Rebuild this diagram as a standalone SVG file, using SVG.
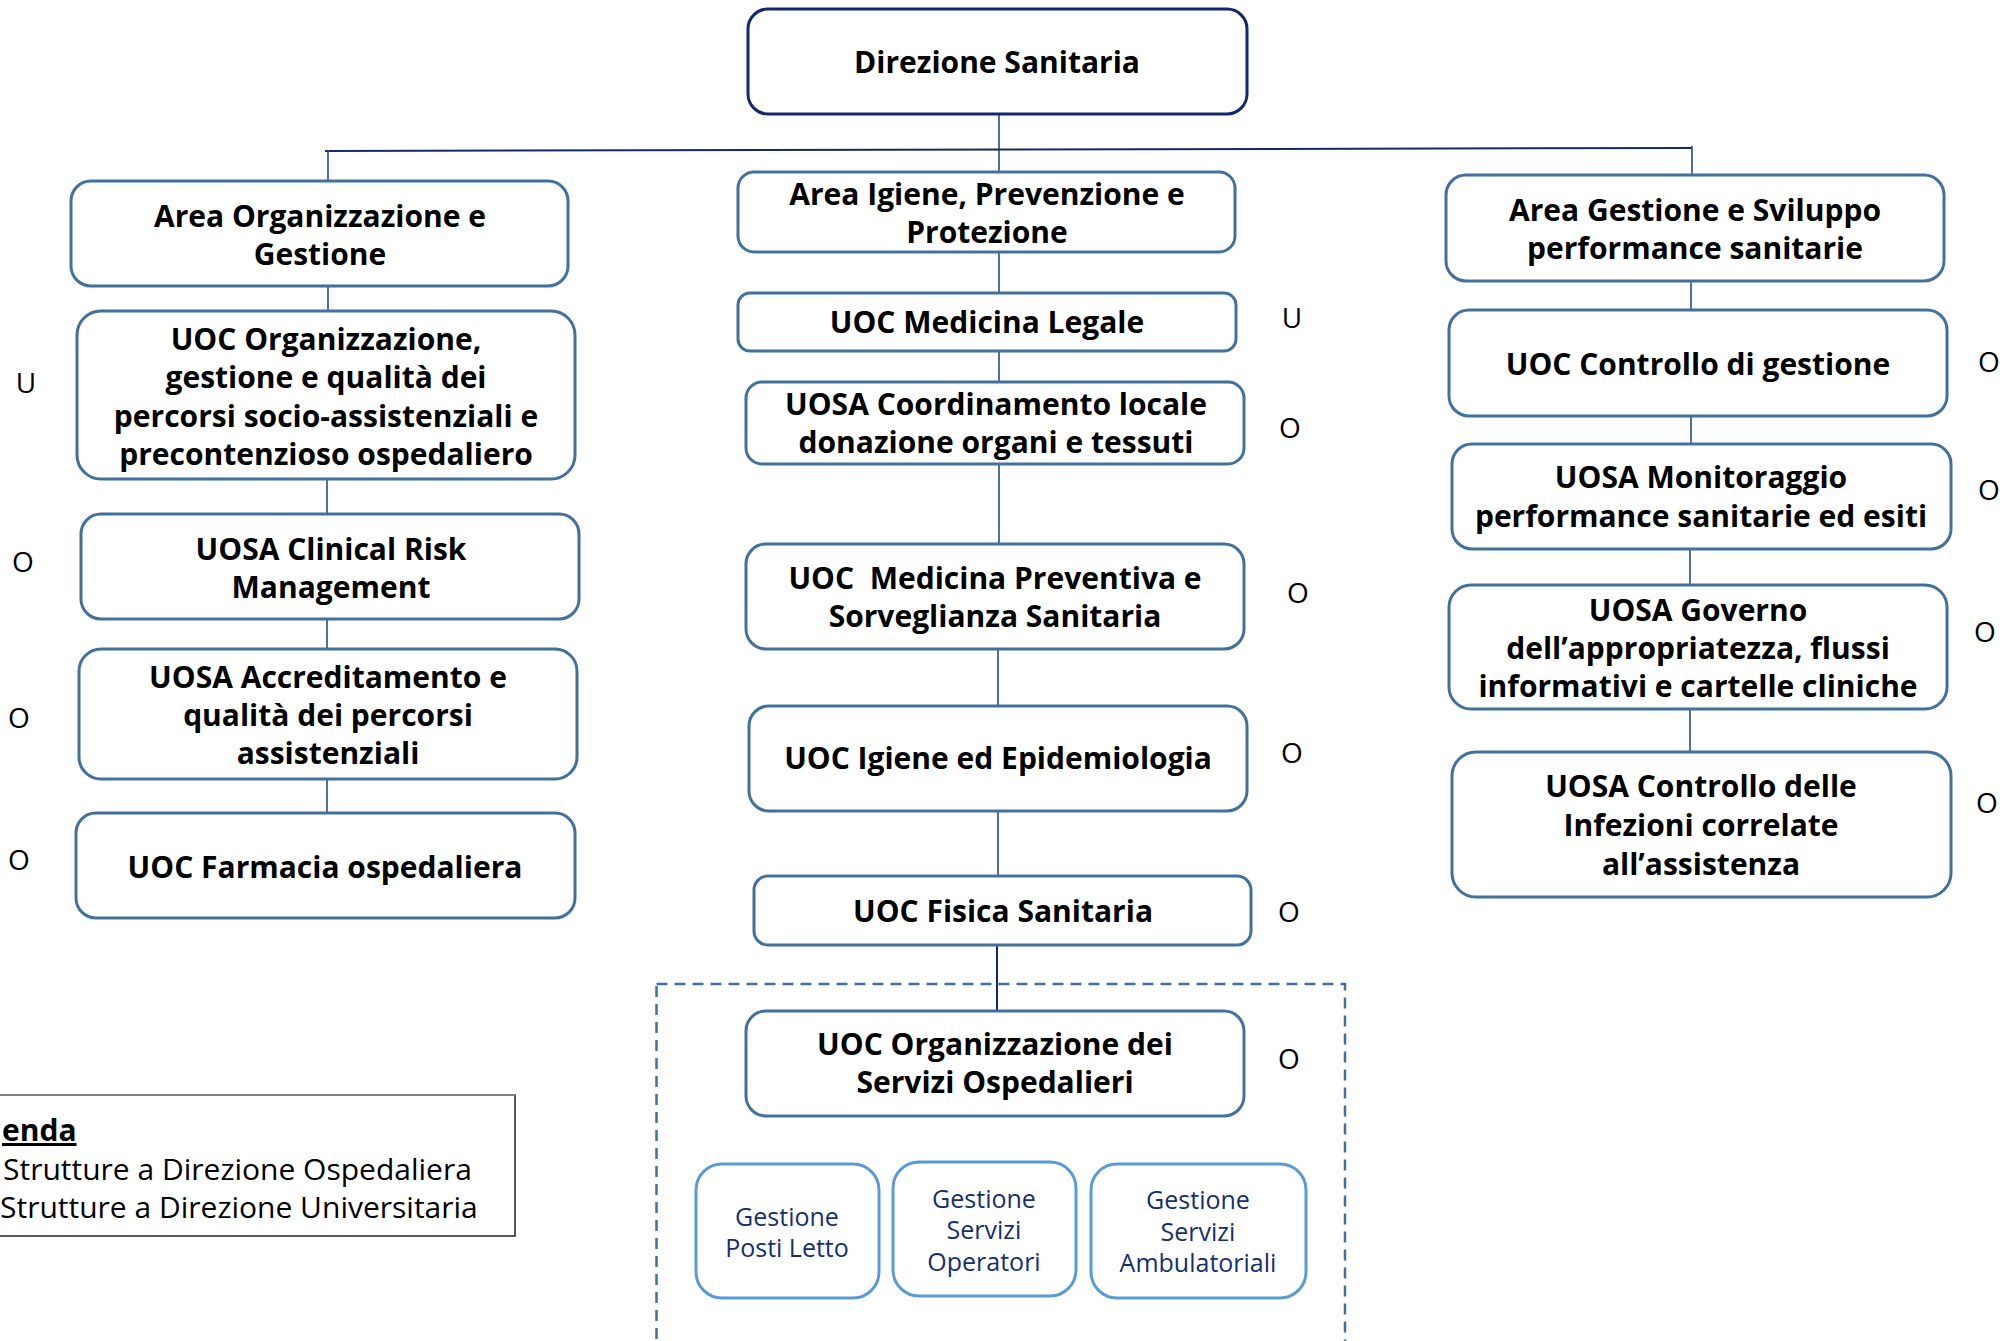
<svg xmlns="http://www.w3.org/2000/svg" width="2013" height="1341" viewBox="0 0 2013 1341">
<style>
  .box { fill: #ffffff; stroke: #41719c; stroke-width: 3; }
  .top { fill: #ffffff; stroke: #13296b; stroke-width: 3; }
  .sub { fill: #ffffff; stroke: #5b9bd5; stroke-width: 3; }
  .t { font-family: "Open Sans", "Noto Sans", sans-serif; font-weight: bold; font-size: 30px; fill: #000000; text-anchor: middle; }
  .st { font-family: "Open Sans", "Noto Sans", sans-serif; font-size: 25px; fill: #14306e; text-anchor: middle; }
  .mk { font-family: "Open Sans", "Noto Sans", sans-serif; font-size: 28px; fill: #000000; text-anchor: middle; }
  .lg { font-family: "Open Sans", "Noto Sans", sans-serif; font-size: 30px; fill: #000000; }
  .c { stroke: #3f5f96; stroke-width: 1.8; fill: none; }
  .cn { stroke: #13296b; stroke-width: 2; fill: none; }
</style>

<g id="connectors">
  <line class="c" x1="999" y1="114" x2="999" y2="172"/>
  <line class="cn" x1="325" y1="151" x2="1692" y2="148"/>
  <line class="c" x1="328" y1="151" x2="328" y2="181"/>
  <line class="c" x1="1692" y1="146" x2="1692" y2="175"/>
  <line class="c" x1="328" y1="286" x2="328" y2="311"/>
  <line class="c" x1="327" y1="479" x2="327" y2="514"/>
  <line class="c" x1="327" y1="619" x2="327" y2="649"/>
  <line class="c" x1="327" y1="779" x2="327" y2="813"/>
  <line class="c" x1="999" y1="252" x2="999" y2="293"/>
  <line class="c" x1="999" y1="351" x2="999" y2="382"/>
  <line class="c" x1="999" y1="464" x2="999" y2="544"/>
  <line class="c" x1="998" y1="649" x2="998" y2="706"/>
  <line class="c" x1="998" y1="811" x2="998" y2="876"/>
  <line class="cn" x1="997" y1="945" x2="997" y2="1011"/>
  <line class="c" x1="1691" y1="281" x2="1691" y2="310"/>
  <line class="c" x1="1691" y1="416" x2="1691" y2="444"/>
  <line class="c" x1="1690" y1="549" x2="1690" y2="585"/>
  <line class="c" x1="1690" y1="709" x2="1690" y2="752"/>
</g>

<g id="group-servizi">
  <rect x="656.5" y="984" width="688.5" height="380" fill="none" stroke="#41719c" stroke-width="2.5" stroke-dasharray="11 7"/>
</g>

<g id="direzione">
  <rect class="top" x="748" y="9" width="499" height="105" rx="20"/>
  <text class="t" x="997" y="73">Direzione Sanitaria</text>
</g>

<g id="area-org">
  <rect class="box" x="71" y="181" width="497" height="105" rx="20"/>
  <text class="t" x="320" y="227">Area Organizzazione e</text>
  <text class="t" x="320" y="265">Gestione</text>
</g>
<g id="uoc-org">
  <rect class="box" x="77" y="311" width="498" height="168" rx="24"/>
  <text class="t" x="326" y="350">UOC Organizzazione,</text>
  <text class="t" x="326" y="388">gestione e qualità dei</text>
  <text class="t" x="326" y="427">percorsi socio-assistenziali e</text>
  <text class="t" x="326" y="465">precontenzioso ospedaliero</text>
</g>
<g id="uosa-clinical">
  <rect class="box" x="81" y="514" width="498" height="105" rx="20"/>
  <text class="t" x="331" y="560">UOSA Clinical Risk</text>
  <text class="t" x="331" y="598">Management</text>
</g>
<g id="uosa-accred">
  <rect class="box" x="79" y="649" width="498" height="130" rx="22"/>
  <text class="t" x="328" y="688">UOSA Accreditamento e</text>
  <text class="t" x="328" y="726">qualità dei percorsi</text>
  <text class="t" x="328" y="764">assistenziali</text>
</g>
<g id="uoc-farmacia">
  <rect class="box" x="76" y="813" width="499" height="105" rx="20"/>
  <text class="t" x="325" y="878">UOC Farmacia ospedaliera</text>
</g>

<g id="area-igiene">
  <rect class="box" x="738" y="172" width="497" height="80" rx="16"/>
  <text class="t" x="987" y="205">Area Igiene, Prevenzione e</text>
  <text class="t" x="987" y="243">Protezione</text>
</g>
<g id="uoc-med-legale">
  <rect class="box" x="738" y="293" width="498" height="58" rx="12"/>
  <text class="t" x="987" y="333">UOC Medicina Legale</text>
</g>
<g id="uosa-coord">
  <rect class="box" x="746" y="382" width="498" height="82" rx="16"/>
  <text class="t" x="996" y="415">UOSA Coordinamento locale</text>
  <text class="t" x="996" y="453">donazione organi e tessuti</text>
</g>
<g id="uoc-med-prev">
  <rect class="box" x="746" y="544" width="498" height="105" rx="20"/>
  <text class="t" x="995" y="589" xml:space="preserve">UOC  Medicina Preventiva e</text>
  <text class="t" x="995" y="627">Sorveglianza Sanitaria</text>
</g>
<g id="uoc-igiene">
  <rect class="box" x="749" y="706" width="498" height="105" rx="20"/>
  <text class="t" x="998" y="769">UOC Igiene ed Epidemiologia</text>
</g>
<g id="uoc-fisica">
  <rect class="box" x="754" y="876" width="497" height="69" rx="14"/>
  <text class="t" x="1003" y="922">UOC Fisica Sanitaria</text>
</g>
<g id="uoc-org-servizi">
  <rect class="box" x="746" y="1011" width="498" height="105" rx="20"/>
  <text class="t" x="995" y="1055">UOC Organizzazione dei</text>
  <text class="t" x="995" y="1093">Servizi Ospedalieri</text>
</g>
<g id="gest-posti">
  <rect class="sub" x="696" y="1164" width="183" height="134" rx="26"/>
  <text class="st" x="787" y="1226">Gestione</text>
  <text class="st" x="787" y="1257">Posti Letto</text>
</g>
<g id="gest-operatori">
  <rect class="sub" x="893" y="1162" width="183" height="134" rx="26"/>
  <text class="st" x="984" y="1208">Gestione</text>
  <text class="st" x="984" y="1239">Servizi</text>
  <text class="st" x="984" y="1271">Operatori</text>
</g>
<g id="gest-ambulatoriali">
  <rect class="sub" x="1091" y="1164" width="215" height="134" rx="26"/>
  <text class="st" x="1198" y="1209">Gestione</text>
  <text class="st" x="1198" y="1241">Servizi</text>
  <text class="st" x="1198" y="1272">Ambulatoriali</text>
</g>

<g id="area-gestione">
  <rect class="box" x="1446" y="175" width="498" height="106" rx="20"/>
  <text class="t" x="1695" y="221">Area Gestione e Sviluppo</text>
  <text class="t" x="1695" y="259">performance sanitarie</text>
</g>
<g id="uoc-controllo">
  <rect class="box" x="1449" y="310" width="498" height="106" rx="20"/>
  <text class="t" x="1698" y="375">UOC Controllo di gestione</text>
</g>
<g id="uosa-monitoraggio">
  <rect class="box" x="1452" y="444" width="499" height="105" rx="20"/>
  <text class="t" x="1701" y="488">UOSA Monitoraggio</text>
  <text class="t" x="1701" y="527">performance sanitarie ed esiti</text>
</g>
<g id="uosa-governo">
  <rect class="box" x="1449" y="585" width="498" height="124" rx="22"/>
  <text class="t" x="1698" y="621">UOSA Governo</text>
  <text class="t" x="1698" y="659">dell’appropriatezza, flussi</text>
  <text class="t" x="1698" y="697">informativi e cartelle cliniche</text>
</g>
<g id="uosa-infezioni">
  <rect class="box" x="1452" y="752" width="499" height="145" rx="24"/>
  <text class="t" x="1701" y="797">UOSA Controllo delle</text>
  <text class="t" x="1701" y="836">Infezioni correlate</text>
  <text class="t" x="1701" y="875">all’assistenza</text>
</g>

<g id="markers">
  <text class="mk" x="26" y="393">U</text>
  <text class="mk" x="23" y="572">O</text>
  <text class="mk" x="19" y="728">O</text>
  <text class="mk" x="19" y="870">O</text>
  <text class="mk" x="1292" y="328">U</text>
  <text class="mk" x="1290" y="438">O</text>
  <text class="mk" x="1298" y="603">O</text>
  <text class="mk" x="1292" y="763">O</text>
  <text class="mk" x="1289" y="922">O</text>
  <text class="mk" x="1289" y="1069">O</text>
  <text class="mk" x="1989" y="372">O</text>
  <text class="mk" x="1989" y="500">O</text>
  <text class="mk" x="1985" y="642">O</text>
  <text class="mk" x="1987" y="813">O</text>
</g>

<g id="legenda">
  <rect x="-4" y="1095" width="519" height="141" fill="#ffffff" stroke="#222222" stroke-width="1.5"/>
  <line x1="-4" y1="1095" x2="515" y2="1095" stroke="#7f7f7f" stroke-width="2"/>
  <text class="lg" x="2" y="1141" font-weight="bold" text-decoration="underline">enda</text>
  <text class="lg" x="3" y="1180">Strutture a Direzione Ospedaliera</text>
  <text class="lg" x="0" y="1218">Strutture a Direzione Universitaria</text>
</g>
</svg>
